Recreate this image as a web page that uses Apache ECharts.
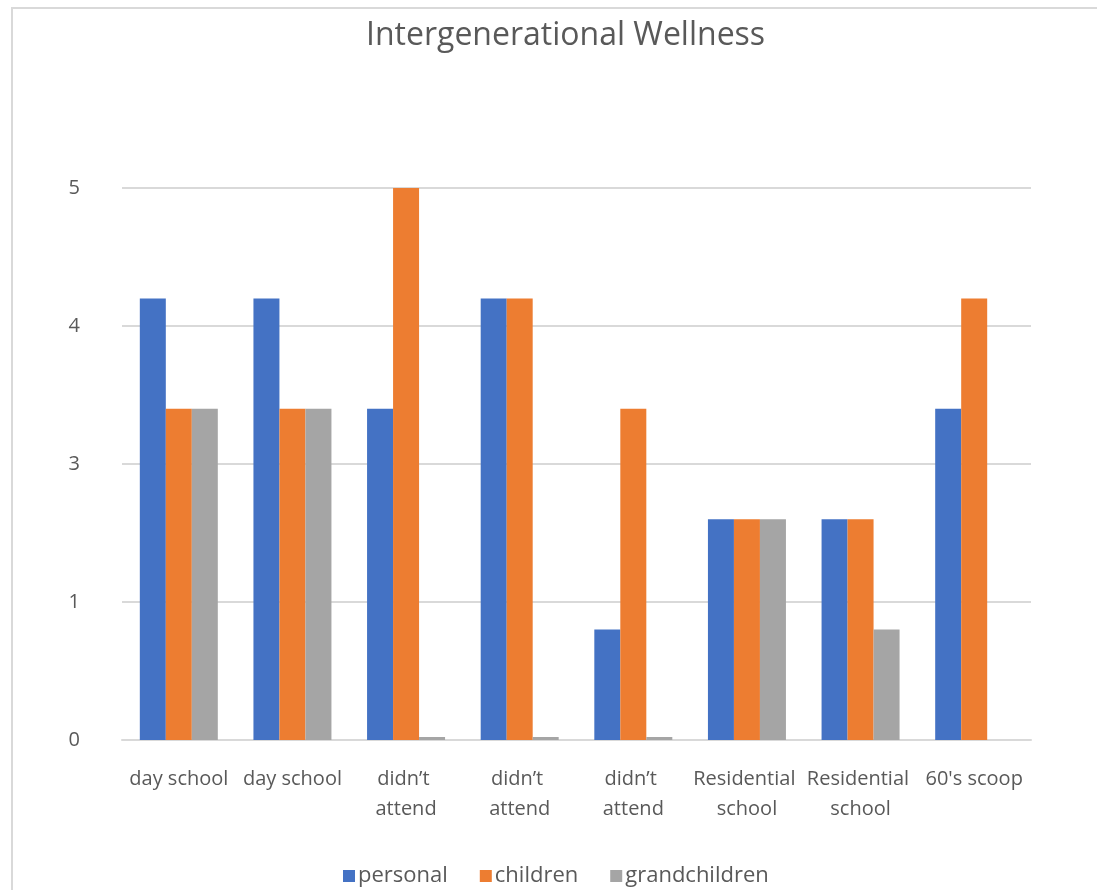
<!DOCTYPE html>
<html>
<head>
<meta charset="utf-8">
<script src="https://cdn.jsdelivr.net/npm/echarts@6/dist/echarts.min.js"></script>
<style>
  html, body { margin: 0; padding: 0; background: #fff; }
  #frame { position: absolute; left: 11px; top: 7px; width: 1100px; height: 900px; border-left: 2px solid #d9d9d9; border-top: 2px solid #d9d9d9; box-sizing: border-box; }
  #chart { position: absolute; left: 0; top: 0; width: 1097px; height: 890px; }
</style>
</head>
<body>
<div id="frame"></div>
<div id="chart"></div>
<script>
const titleText = 'Intergenerational Wellness';
const categories = ['day school', 'day school', 'didn’t attend', 'didn’t attend', 'didn’t attend', 'Residential school', 'Residential school', "60's scoop"];
const personal = [4, 4, 3, 4, 1, 2, 2, 3];
const children = [3, 3, 5, 4, 3, 2, 2, 4];
const grandchildren = [3, 3, 0, 0, 0, 2, 1, null];
const seriesNames = ['personal', 'children', 'grandchildren'];
const seriesColors = ['#4472C4', '#ED7D31', '#A5A5A5'];
const axisMin = 0, axisMax = 5, axisInterval = 1.25;

const font = '"Open Sans", "Noto Sans", sans-serif';
const chart = echarts.init(document.getElementById('chart'));
const seriesData = [personal, children, grandchildren];
chart.setOption({
  animation: false,
  title: {
    text: titleText, left: 361, top: 15,
    textStyle: { fontFamily: font, fontSize: 32, fontWeight: 'normal', color: '#595959' }
  },
  legend: {
    data: seriesNames, bottom: -2, left: 338, itemWidth: 12, itemHeight: 12, itemGap: 32,
    icon: 'rect',
    textStyle: { fontFamily: font, fontSize: 22, color: '#595959', padding: [0, 0, 0, -2] }
  },
  grid: { left: 122, right: 66, top: 188, bottom: 150 },
  xAxis: {
    type: 'category', data: categories,
    axisLine: { show: true, lineStyle: { color: '#d9d9d9', width: 2 } },
    axisTick: { show: false },
    axisLabel: {
      fontFamily: font, fontSize: 20, color: '#595959', margin: 24, lineHeight: 30,
      width: 116, overflow: 'break', interval: 0
    }
  },
  yAxis: {
    type: 'value', min: axisMin, max: axisMax, interval: axisInterval,
    axisLine: { show: false }, axisTick: { show: false },
    splitLine: { lineStyle: { color: '#d9d9d9', width: 2 } },
    axisLabel: {
      fontFamily: font, fontSize: 20, color: '#595959', margin: 42,
      formatter: v => String(Math.round(v))
    }
  },
  series: seriesNames.map((n, i) => ({
    name: n, type: 'bar', data: seriesData[i],
    barWidth: 26, barGap: '0%', barMinHeight: 3,
    itemStyle: { color: seriesColors[i] }
  }))
});
</script>
</body>
</html>
